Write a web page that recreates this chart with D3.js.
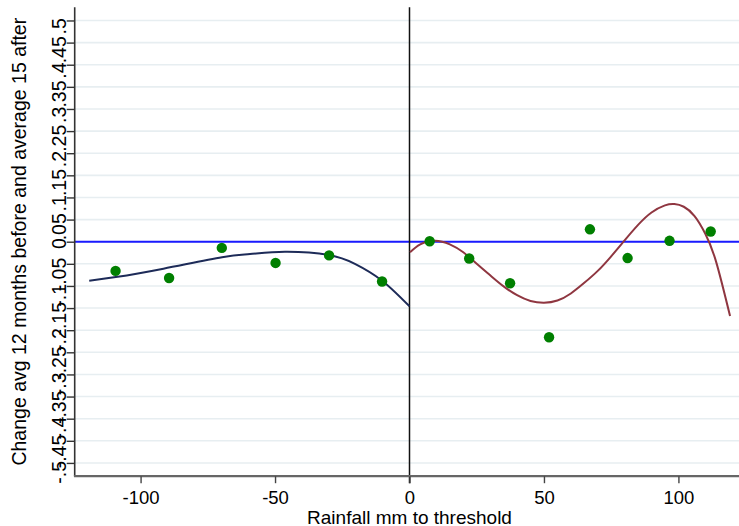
<!DOCTYPE html>
<html><head><meta charset="utf-8">
<script src="https://cdn.jsdelivr.net/npm/d3@7"></script>
<style>body{margin:0;background:#fff}svg{display:block}text{font-family:"Liberation Sans",Arial,Helvetica,sans-serif}</style>
</head><body><svg id="c" width="739" height="526"></svg>
<script>
// ---- data ----
const leftX = [-109.3, -89.4, -69.8, -49.8, -29.9, -10.2];
const leftY = [-0.066, -0.082, -0.014, -0.048, -0.031, -0.090];
const rightX = [7.5, 22.2, 37.4, 51.9, 67.1, 81.1, 96.7, 112.0];
const rightY = [0.001, -0.038, -0.094, -0.216, 0.028, -0.037, 0.002, 0.023];
const leftFitX = [-119.1, -109.2, -91.5, -69.7, -59.3, -46.3, -30.0, -20.3, -10.3, 0];
const leftFitY = [-0.088, -0.080, -0.061, -0.035, -0.028, -0.0226, -0.030, -0.050, -0.0875, -0.146];
const rightFitX = [0.2, 4, 9.5, 15, 20, 25, 30, 35, 40, 45, 50, 55, 60, 65, 70, 75, 80, 85, 90, 95, 98.5, 102, 106, 110, 114, 119.2];
const rightFitY = [-0.024, -0.006, 0.002, -0.006, -0.024, -0.050, -0.076, -0.101, -0.121, -0.134, -0.138, -0.133, -0.117, -0.093, -0.066, -0.033, 0.003, 0.038, 0.066, 0.082, 0.085, 0.079, 0.058, 0.018, -0.045, -0.168];
const xTicks = [-100, -50, 0, 50, 100];
const xTickLabels = ["-100", "-50", "0", "50", "100"];
const yTicks = [0.5,0.45,0.4,0.35,0.3,0.25,0.2,0.15,0.1,0.05,0,-0.05,-0.1,-0.15,-0.2,-0.25,-0.3,-0.35,-0.4,-0.45,-0.5];
const yTickLabels = [".5",".45",".4",".35",".3",".25",".2",".15",".1",".05","0","-.05","-.1","-.15","-.2","-.25","-.3","-.35","-.4","-.45","-.5"];
const xTitle = "Rainfall mm to threshold";
const yTitle = "Change avg 12 months before and average 15 after";

const svg = d3.select("#c");
const L = 74.7, R = 744.3, T = 7.2, B = 476.2;
const x = d3.scaleLinear().domain([-124.5, 124.5]).range([L, R]);
const y = d3.scaleLinear().domain([-0.53, 0.53]).range([B, T]);

// grid
svg.append("g").selectAll("line").data(yTicks).join("line")
  .attr("x1", L).attr("x2", 739).attr("y1", d => y(d)).attr("y2", d => y(d))
  .attr("stroke", "#e7eef1").attr("stroke-width", 1.6);

// zero line (horizontal)
svg.append("line").attr("x1", L).attr("x2", 739).attr("y1", y(0)).attr("y2", y(0))
  .attr("stroke", "#1a1aff").attr("stroke-width", 2);

// vertical line at 0
svg.append("line").attr("x1", x(0)).attr("x2", x(0)).attr("y1", T).attr("y2", B + 7)
  .attr("stroke", "#111").attr("stroke-width", 1.5);

// fitted curves
const line = d3.line().x(d => x(d[0])).y(d => y(d[1])).curve(d3.curveNatural);
svg.append("path").attr("d", line(leftFitX.map((v, i) => [v, leftFitY[i]])))
  .attr("fill", "none").attr("stroke", "#1d2b58").attr("stroke-width", 2);
svg.append("path").attr("d", line(rightFitX.map((v, i) => [v, rightFitY[i]])))
  .attr("fill", "none").attr("stroke", "#8f3640").attr("stroke-width", 2);

// points
const pts = leftX.map((v, i) => [v, leftY[i]]).concat(rightX.map((v, i) => [v, rightY[i]]));
svg.append("g").selectAll("circle").data(pts).join("circle")
  .attr("cx", d => x(d[0])).attr("cy", d => y(d[1])).attr("r", 5.2).attr("fill", "#007f00");

// y axis
const yAxis = d3.axisLeft(y).tickValues(yTicks).tickSize(8).tickSizeOuter(0)
  .tickFormat((d, i) => yTickLabels[i]);
const gy = svg.append("g").attr("transform", `translate(${L},0)`).call(yAxis);
gy.select(".domain").attr("stroke", "#333").attr("stroke-width", 1.6).attr("d", `M0,${T}V${B}`);
gy.selectAll(".tick line").attr("stroke", "#333").attr("stroke-width", 1.4);
gy.selectAll(".tick text")
  .attr("x", null).attr("dy", null).attr("text-anchor", "start")
  .attr("transform", d => { const s = yTickLabels[yTicks.indexOf(d)]; return `translate(-8.5,${s.length * 6.75}) rotate(-90)`; })
  .attr("font-size", 19.5).attr("fill", "#000").attr("font-family", null);

// x axis
const xAxis = d3.axisBottom(x).tickValues(xTicks).tickSize(7).tickSizeOuter(0)
  .tickFormat((d, i) => xTickLabels[i]);
const gx = svg.append("g").attr("transform", `translate(0,${B})`).call(xAxis);
gx.select(".domain").attr("stroke", "#666").attr("stroke-width", 2.2).attr("d", `M${L - 0.8},0H739`);
gx.selectAll(".tick line").attr("stroke", "#444").attr("stroke-width", 1.4);
gx.selectAll(".tick text").attr("y", 28).attr("dy", null).attr("font-size", 18.5).attr("fill", "#000").attr("font-family", null);

// titles
svg.append("text").attr("x", (L + R) / 2).attr("y", 523.5).attr("text-anchor", "middle")
  .attr("font-size", 19).text(xTitle);
svg.append("text").attr("transform", `translate(25.5,${(T + B) / 2}) rotate(-90)`).attr("text-anchor", "middle")
  .attr("font-size", 19.5).text(yTitle);
</script></body></html>
